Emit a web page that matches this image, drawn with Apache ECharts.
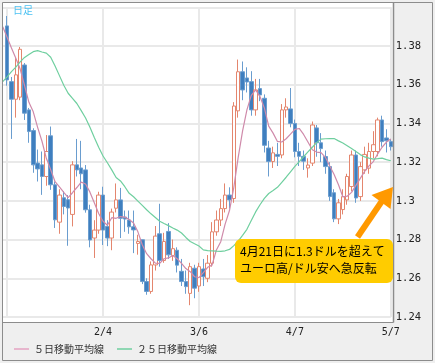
<!DOCTYPE html>
<html><head><meta charset="utf-8">
<script src="https://cdn.jsdelivr.net/npm/echarts@6/dist/echarts.min.js"></script>
<style>html,body{margin:0;padding:0;background:#efefef}#c{width:435px;height:363px}</style>
</head><body><div id="c"></div>
<script>
// trading days (first entry: day before the first candle, only the averages reach it)
const dates = ['12/31',
 '1/5','1/6','1/7','1/8','1/9','1/12','1/13','1/14','1/15','1/16',
 '1/19','1/20','1/21','1/22','1/23','1/26','1/27','1/28','1/29','1/30',
 '2/2','2/3','2/4','2/5','2/6','2/9','2/10','2/11','2/12','2/13',
 '2/16','2/17','2/18','2/19','2/20','2/23','2/24','2/25','2/26','2/27',
 '3/2','3/3','3/4','3/5','3/6','3/9','3/10','3/11','3/12','3/13',
 '3/16','3/17','3/18','3/19','3/20','3/23','3/24','3/25','3/26','3/27',
 '3/30','3/31','4/1','4/2','4/3','4/6','4/7','4/8','4/9','4/10',
 '4/13','4/14','4/15','4/16','4/17','4/20','4/21','4/22','4/23','4/24',
 '4/27','4/28','4/29','4/30','5/1','5/4','5/5','5/6','5/7'];
const tickLabels = ['2/4','3/6','4/7','5/7'];
const gridDates = ['1/5','2/4','3/6','4/7','5/7'];

const opens = [
 1.3904,1.3616,1.3525,1.3536,1.3702,1.3470,1.3363,1.3195,1.3186,1.3126,
 1.3336,1.3083,1.2890,1.3016,1.3006,1.2930,1.3186,1.3170,1.3160,1.2954,
 1.2808,1.2849,1.3030,1.2868,1.2808,1.2962,1.3005,1.2916,1.2901,1.2866,
 1.2780,1.2799,1.2583,1.2532,1.2669,1.2830,1.2692,1.2842,1.2718,1.2745,
 1.2636,1.2583,1.2522,1.2652,1.2560,1.2648,1.2600,1.2678,1.2840,1.2901,
 1.2960,1.3030,1.3012,1.3465,1.3667,1.3635,1.3616,1.3470,1.3580,1.3530,
 1.3273,1.3203,1.3240,1.3237,1.3470,1.3475,1.3400,1.3255,1.3230,1.3170,
 1.3195,1.3377,1.3300,1.3229,1.3177,1.3042,1.2907,1.2955,1.3005,1.3074,
 1.3237,1.3022,1.3160,1.3169,1.3255,1.3255,1.3418,1.3325,1.3306];
const closes = [
 1.3625,1.3525,1.3651,1.3783,1.3453,1.3358,1.3186,1.3165,1.3126,1.3255,
 1.3083,1.2902,1.3030,1.2971,1.2963,1.3186,1.3160,1.3140,1.2954,1.2798,
 1.2849,1.3030,1.2849,1.2808,1.2942,1.3005,1.2910,1.2906,1.2866,1.2850,
 1.2790,1.2583,1.2532,1.2669,1.2818,1.2692,1.2790,1.2721,1.2753,1.2668,
 1.2583,1.2557,1.2660,1.2549,1.2660,1.2608,1.2678,1.2840,1.2901,1.2960,
 1.3030,1.3005,1.3490,1.3667,1.3573,1.3614,1.3470,1.3573,1.3547,1.3287,
 1.3203,1.3248,1.3230,1.3470,1.3485,1.3400,1.3255,1.3230,1.3205,1.3185,
 1.3392,1.3300,1.3270,1.3177,1.3022,1.2907,1.2990,1.3022,1.3126,1.3237,
 1.3015,1.3177,1.3240,1.3255,1.3290,1.3418,1.3306,1.3310,1.3280];
const lows = [
 1.3595,1.3320,1.3430,1.3520,1.3418,1.3300,1.3145,1.3100,1.3031,1.3078,
 1.3057,1.2860,1.2830,1.2930,1.2768,1.2868,1.3126,1.3060,1.2939,1.2760,
 1.2705,1.2830,1.2772,1.2766,1.2745,1.2940,1.2808,1.2840,1.2830,1.2730,
 1.2722,1.2570,1.2515,1.2520,1.2640,1.2660,1.2680,1.2700,1.2690,1.2630,
 1.2560,1.2520,1.2461,1.2497,1.2530,1.2560,1.2580,1.2660,1.2820,1.2870,
 1.2940,1.2960,1.2990,1.3430,1.3520,1.3560,1.3440,1.3440,1.3515,1.3250,
 1.3126,1.3170,1.3180,1.3220,1.3430,1.3380,1.3225,1.3180,1.3160,1.3120,
 1.3180,1.3228,1.3200,1.3140,1.3000,1.2890,1.2880,1.2930,1.2980,1.3050,
 1.2990,1.3000,1.3140,1.3140,1.3220,1.3230,1.3280,1.3250,1.3260];
const highs = [
 1.3955,1.3640,1.3737,1.3795,1.3712,1.3480,1.3375,1.3265,1.3255,1.3340,
 1.3384,1.3100,1.3060,1.3050,1.3030,1.3205,1.3320,1.3310,1.3185,1.2980,
 1.2900,1.3047,1.3073,1.2900,1.2960,1.3090,1.3067,1.2950,1.2950,1.2950,
 1.2825,1.2800,1.2600,1.2687,1.2870,1.2985,1.2835,1.2885,1.2800,1.2760,
 1.2700,1.2640,1.2680,1.2670,1.2680,1.2700,1.2720,1.2890,1.2950,1.3010,
 1.3090,1.3070,1.3510,1.3730,1.3720,1.3690,1.3670,1.3630,1.3630,1.3550,
 1.3310,1.3280,1.3300,1.3500,1.3530,1.3583,1.3420,1.3300,1.3260,1.3220,
 1.3410,1.3392,1.3350,1.3260,1.3200,1.3060,1.3010,1.3060,1.3140,1.3260,
 1.3260,1.3200,1.3280,1.3300,1.3360,1.3430,1.3440,1.3370,1.3320];

// moving averages (first value = 12/31)
const ma5 = [1.3900,
 1.3845,1.3790,1.3737,1.3681,1.3596,1.3509,1.3460,1.3380,1.3308,1.3220,
 1.3161,1.3099,1.3072,1.3044,1.3017,1.3042,1.3069,1.3097,1.3087,1.3045,
 1.2990,1.2935,1.2895,1.2874,1.2913,1.2910,1.2919,1.2916,1.2904,1.2886,
 1.2840,1.2773,1.2727,1.2701,1.2678,1.2677,1.2701,1.2705,1.2718,1.2701,
 1.2677,1.2650,1.2634,1.2608,1.2603,1.2629,1.2657,1.2668,1.2746,1.2789,
 1.2880,1.2950,1.3070,1.3225,1.3360,1.3470,1.3545,1.3573,1.3539,1.3480,
 1.3386,1.3350,1.3307,1.3304,1.3321,1.3345,1.3369,1.3374,1.3343,1.3304,
 1.3264,1.3252,1.3249,1.3225,1.3180,1.3136,1.3083,1.3021,1.3024,1.3044,
 1.3080,1.3116,1.3152,1.3181,1.3203,1.3243,1.3277,1.3304,1.3320];
const ma25 = [1.3616,
 1.3641,1.3668,1.3691,1.3718,1.3741,1.3756,1.3771,1.3776,1.3769,1.3763,
 1.3742,1.3697,1.3647,1.3597,1.3556,1.3530,1.3503,1.3466,1.3428,1.3380,
 1.3327,1.3277,1.3232,1.3197,1.3160,1.3121,1.3103,1.3073,1.3039,1.3021,
 1.2999,1.2977,1.2954,1.2933,1.2914,1.2895,1.2883,1.2872,1.2860,1.2849,
 1.2834,1.2811,1.2790,1.2778,1.2767,1.2747,1.2743,1.2742,1.2740,1.2739,
 1.2742,1.2749,1.2769,1.2792,1.2822,1.2853,1.2898,1.2943,1.2980,1.3013,
 1.3038,1.3053,1.3070,1.3096,1.3122,1.3150,1.3178,1.3203,1.3228,1.3253,
 1.3277,1.3301,1.3319,1.3321,1.3322,1.3322,1.3310,1.3299,1.3285,1.3270,
 1.3255,1.3239,1.3227,1.3221,1.3216,1.3218,1.3221,1.3213,1.3207];

const candleData = [['-','-','-','-']].concat(opens.map((o, k) => [o, closes[k], lows[k], highs[k]]));

const chart = echarts.init(document.getElementById('c'));
const mono = 'DejaVu Sans Mono';
const jp = '"Noto Sans CJK JP", sans-serif';
chart.setOption({
  animation: false,
  backgroundColor: '#efefef',
  grid: { left: 2.74, right: 44.2, top: 7.3, bottom: 46, outerBoundsMode: 'none' },
  legend: {
    left: 14, top: 344, padding: 0, itemGap: 13, itemWidth: 15, itemHeight: 1.5, icon: 'rect',
    textStyle: { fontFamily: jp, fontSize: 10, color: '#333' },
    data: ['５日移動平均線', '２５日移動平均線']
  },
  xAxis: {
    type: 'category', data: dates, boundaryGap: false,
    axisLine: { show: false }, axisTick: { show: false },
    axisLabel: {
      interval: (idx, v) => tickLabels.includes(v), margin: 10, hideOverlap: false,
      fontFamily: mono, fontSize: 10, color: '#222'
    },
    splitLine: { show: true, interval: (idx, v) => gridDates.includes(v), lineStyle: { color: '#e9e9e9', width: 2 } }
  },
  yAxis: {
    type: 'value', position: 'right', min: 1.24, max: 1.40, interval: 0.02, scale: true,
    axisLine: { show: false }, axisTick: { show: false },
    axisLabel: {
      margin: 5, fontFamily: mono, fontSize: 10.5, color: '#222',
      formatter: v => (v > 1.399 ? '' : String(+v.toFixed(2)))
    },
    splitLine: { show: true, lineStyle: { color: '#e9e9e9', width: 2 } }
  },
  series: [
    {
      type: 'candlestick', name: 'rate', data: candleData, barWidth: 4, clip: false,
      itemStyle: { color: '#ffffff', color0: '#3f7fbf', borderColor: '#e4866e', borderColor0: '#6a9dcf', borderWidth: 1 }
    },
    { type: 'line', name: '５日移動平均線', data: ma5, symbol: 'none', lineStyle: { color: '#cf8aaa', width: 1.2 }, itemStyle: { color: '#e4a3c2' }, z: 3 },
    { type: 'line', name: '２５日移動平均線', data: ma25, symbol: 'none', lineStyle: { color: '#6fcf9f', width: 1.2 }, itemStyle: { color: '#6fcf9f' }, z: 3 }
  ],
  graphic: [
    { type: 'rect', z: -10, silent: true, shape: { x: 3, y: 3, width: 390, height: 319 }, style: { fill: '#ffffff' } },
    { type: 'text', z: 50, silent: true, x: 13, y: 5, style: { text: '日足', fontFamily: jp, fontSize: 10, fill: '#4cc2f2' } },
    { type: 'line', z: 60, silent: true, shape: { x1: 393.5, y1: 3, x2: 393.5, y2: 322.5 }, style: { stroke: '#8c8c8c', lineWidth: 1.5 } },
    { type: 'line', z: 60, silent: true, shape: { x1: 3, y1: 322.5, x2: 393.5, y2: 322.5 }, style: { stroke: '#8c8c8c', lineWidth: 1 } },
    { type: 'rect', z: 60, silent: true, shape: { x: 2.5, y: 2.5, width: 430, height: 358 }, style: { fill: 'none', stroke: '#8c8c8c', lineWidth: 1 } },
    { type: 'line', z: 70, silent: true, shape: { x1: 357.5, y1: 237, x2: 382, y2: 201 }, style: { stroke: '#ff9900', lineWidth: 6 } },
    { type: 'polygon', z: 70, silent: true, shape: { points: [[393, 187], [371.5, 195], [390.5, 209]] }, style: { fill: '#ff9900' } },
    { type: 'rect', z: 80, silent: true, shape: { x: 235, y: 239, width: 158, height: 44, r: 6 }, style: { fill: '#ffcc00' } },
    { type: 'text', z: 81, silent: true, x: 240, y: 243, style: { text: '4月21日に1.3ドルを超えて\nユーロ高/ドル安へ急反転', fontFamily: jp, fontSize: 12, lineHeight: 17, fill: '#000' } }
  ]
});
</script></body></html>
